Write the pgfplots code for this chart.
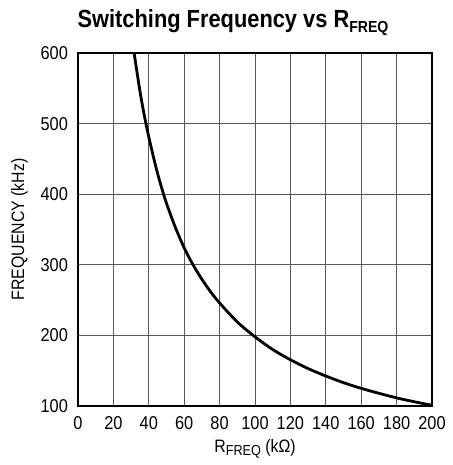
\documentclass[border=0pt]{standalone}
\usepackage{fontspec}
\setmainfont{Liberation Sans}[FakeStretch=0.88]
\usepackage{pgfplots}
\pgfplotsset{compat=1.18}
\newcommand{\sub}[1]{\raisebox{-0.35ex}{\fontsize{7.2}{8}\selectfont #1}}
\begin{document}
\begin{tikzpicture}
  \begin{axis}[
    at={(0pt,0pt)}, anchor=south west,
    scale only axis, width=177pt, height=176.5pt,
    xmin=0, xmax=200, ymin=100, ymax=600,
    xtick={0,20,...,200}, ytick={100,200,...,600},
    grid=major, major grid style={black!65, line width=0.5pt},
    major tick length=0pt,
    axis line style={line width=0.8pt},
    tick label style={font=\fontsize{9.3}{10}\selectfont},
    /pgf/number format/assume math mode=true,
    /pgf/number format/1000 sep={},
    xticklabel style={yshift=-1.5pt},
    yticklabel style={xshift=-1.5pt},
    xlabel={R\sub{FREQ} (kΩ)},
    ylabel={FREQUENCY (kHz)},
    label style={font=\fontsize{9}{10}\selectfont},
    xlabel style={yshift=2pt},
    ylabel style={yshift=-0.5pt},
  ]
    \addplot[black, line width=1.4pt, smooth] coordinates {
      (31.7,600) (35,546) (37.5,511) (40,481) (42.5,454) (45,429)
      (47.5,407) (50,387) (55,353) (60,324) (65,300) (70,279.5)
      (75,261.5) (80,246) (90,219) (100,198) (110,180) (120,165.5)
      (130,153) (140,142.5) (150,133) (160,125) (170,118) (180,111.5)
      (190,106) (200,101)
    };
  \end{axis}
  \node[anchor=base, font=\bfseries\fontsize{12.4}{14}\selectfont] at (77.5pt,189pt)
    {Switching Frequency vs R\sub{\bfseries\fontsize{8}{9}\selectfont FREQ}};
  \path[use as bounding box] (-39pt,-29.5pt) rectangle (185pt,203pt);
\end{tikzpicture}
\end{document}
